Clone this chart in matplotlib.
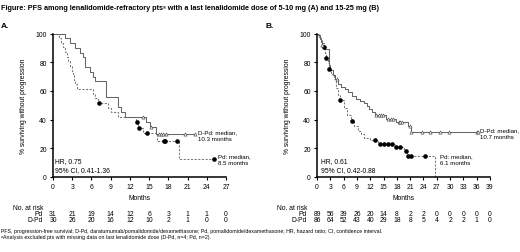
import numpy as np
import matplotlib
matplotlib.use('Agg')
import matplotlib.pyplot as plt
import matplotlib.transforms as mtrans

plt.rcParams['font.family'] = ['Liberation Sans Narrow', 'Liberation Sans', 'DejaVu Sans']

# panel A: last lenalidomide dose 5-10 mg
a_dpd_t = [0, 1.9, 2.6, 3.4, 4.2, 4.7, 5.0, 5.8, 6.3, 6.6, 8.3, 10.1, 10.6, 11.2, 14.5, 15.1, 16.0, 22.2]
a_dpd_s = [100, 96.7, 93.3, 90.0, 86.7, 83.3, 76.7, 73.3, 70.0, 66.7, 55.5, 48.6, 45.0, 41.6, 38.0, 34.6, 30.0, 30.0]
a_dpd_cens = [14.1, 15.3, 16.5, 16.9, 17.2, 17.6, 20.6, 22.2]
a_pd_t = [0, 1.0, 1.3, 1.6, 1.9, 2.2, 2.4, 2.6, 2.9, 3.1, 3.3, 3.5, 3.7, 6.3, 6.6, 7.0, 8.6, 9.1,
          10.2, 13.0, 13.3, 14.0, 16.3, 19.6, 25.2]
a_pd_s = [100, 96.8, 93.5, 90.3, 87.1, 83.9, 80.6, 77.4, 74.2, 71.0, 67.7, 64.5, 61.3, 58.1, 54.8, 51.6,
          48.4, 45.2, 41.9, 38.0, 34.2, 30.4, 25.3, 12.7, 12.7]
a_pd_cens = [7.2, 13.1, 13.4, 14.7, 17.3, 17.5, 19.3, 25.2]
a_risk_t = [0, 3, 6, 9, 12, 15, 18, 21, 24, 27]
a_risk_pd = [31, 21, 19, 14, 12, 6, 3, 1, 1, 0]
a_risk_dpd = [30, 26, 20, 16, 12, 10, 2, 1, 0, 0]

# panel B: last lenalidomide dose 15-25 mg
b_dpd_t = [0, 0.3, 0.6, 0.9, 1.2, 1.5, 2.6, 3.0, 3.5, 4.1, 4.8, 5.5, 6.3, 7.0, 7.8, 8.7, 9.7, 10.5,
           11.2, 11.8, 12.3, 13.0, 15.6, 17.8, 20.5, 21.3, 36.3]
b_dpd_s = [100, 98.8, 96.5, 94.2, 91.9, 89.5, 77.9, 74.4, 70.9, 68.6, 65.1, 62.8, 61.3, 58.9, 56.7,
           54.6, 53.2, 51.6, 49.7, 47.4, 45.0, 43.2, 40.4, 38.0, 35.7, 31.6, 31.6]
b_dpd_cens = [1.2, 4.4, 13.4, 13.9, 14.4, 14.9, 16.0, 16.6, 17.1, 18.5, 18.8, 19.1, 21.0, 21.3,
              23.6, 25.5, 27.7, 29.7, 36.0, 36.3]
b_pd_t = [0, 0.4, 0.8, 1.2, 1.5, 1.8, 2.0, 2.4, 2.8, 3.2, 3.8, 4.2, 4.7, 5.2, 6.0, 6.8, 7.6, 8.4,
          9.2, 9.9, 10.7, 11.9, 13.8, 17.5, 19.7, 20.2, 26.6]
b_pd_s = [100, 97.8, 95.5, 93.3, 90.4, 86.5, 82.7, 79.5, 75.3, 71.9, 68.3, 62.0, 57.3, 53.7, 48.0,
          43.0, 39.2, 35.5, 32.0, 29.8, 27.5, 25.8, 23.0, 20.7, 17.9, 14.4, 0]
b_pd_cens = [1.5, 2.0, 2.8, 5.2, 7.9, 13.1, 14.2, 15.1, 16.1, 17.0, 17.7, 18.7, 20.0, 20.6, 21.1, 24.3]
b_risk_t = [0, 3, 6, 9, 12, 15, 18, 21, 24, 27, 30, 33, 36, 39]
b_risk_pd = [89, 56, 39, 26, 20, 14, 8, 2, 2, 0, 0, 0, 0, 0]
b_risk_dpd = [86, 64, 52, 43, 40, 29, 18, 8, 5, 4, 2, 2, 1, 0]

W, H = 520, 253
fig = plt.figure(figsize=(W / 100, H / 100), dpi=100)
FS = 4.9
LFS = 4.4

def fy(py):
    return 1 - py / H

def step_at(t, s, x):
    i = np.searchsorted(t, x, side='right') - 1
    return np.asarray(s)[i]

def panel(left, xmax, dpd_t, dpd_s, dpd_c, pd_t, pd_s, pd_c, risk_t, risk_pd, risk_dpd,
          letter, hr, hr_x, dpd_lbl, pd_lbl, lbl_pos):
    ax = fig.add_axes([left / W, fy(178), 173 / W, (178 - 34.5) / H])
    ax.step(pd_t, pd_s, where='post', color='#777777', lw=0.75, ls=(0, (2, 1.5)), clip_on=False)
    ax.step(dpd_t, dpd_s, where='post', color='#666666', lw=0.75, clip_on=False)
    ax.plot(pd_c, step_at(pd_t, pd_s, pd_c), 'o', ms=2.3, color='black', clip_on=False)
    ax.plot(dpd_c, step_at(dpd_t, dpd_s, dpd_c), '^', ms=2.3, mfc='white', mec='#555555',
            mew=0.5, clip_on=False)
    ax.set_xlim(0, xmax)
    ax.set_ylim(0, 100)
    ax.set_xticks(risk_t)
    ax.set_yticks([0, 20, 40, 60, 80, 100])
    for sp in ['top', 'right']:
        ax.spines[sp].set_visible(False)
    for sp in ['left', 'bottom']:
        ax.spines[sp].set_linewidth(1.1)
    ax.tick_params(labelsize=FS, length=2.5, width=0.8, pad=2)
    ax.set_xlabel('Months', fontsize=FS, labelpad=3)
    ax.set_ylabel('% surviving without progression', fontsize=FS, labelpad=6)
    ax.text(hr_x, 11.8, hr.split('\n')[0], fontsize=FS, va='center')
    ax.text(hr_x, 5.4, hr.split('\n')[1], fontsize=FS, va='center')
    ax.text(lbl_pos[0], lbl_pos[1], dpd_lbl, fontsize=LFS, va='top', linespacing=1.3, clip_on=False)
    ax.text(lbl_pos[2], lbl_pos[3], pd_lbl, fontsize=LFS, va='top', linespacing=1.3, clip_on=False)
    fig.text((left - 53 + 1) / W, fy(27), letter, fontsize=6, fontweight='bold', va='center')
    tr = mtrans.blended_transform_factory(ax.transData, fig.transFigure)
    fig.text((left - 40) / W, fy(208), 'No. at risk', fontsize=FS, va='center')
    fig.text((left - 10) / W, fy(214.5), 'Pd', fontsize=FS, va='center', ha='right')
    fig.text((left - 10) / W, fy(220.5), 'D-Pd', fontsize=FS, va='center', ha='right')
    for t, n1, n2 in zip(risk_t, risk_pd, risk_dpd):
        ax.text(t, fy(214.5), str(n1), transform=tr, fontsize=FS, ha='center', va='center')
        ax.text(t, fy(220.5), str(n2), transform=tr, fontsize=FS, ha='center', va='center')
    return ax

panel(53, 27, a_dpd_t, a_dpd_s, a_dpd_cens, a_pd_t, a_pd_s, a_pd_cens,
      a_risk_t, a_risk_pd, a_risk_dpd, 'A.', 'HR, 0.75\n95% CI, 0.41-1.36', 0.35,
      'D-Pd: median,\n10.3 months', 'Pd: median,\n8.5 months', (22.7, 33.0, 25.8, 16.2))
panel(317, 39, b_dpd_t, b_dpd_s, b_dpd_cens, b_pd_t, b_pd_s, b_pd_cens,
      b_risk_t, b_risk_pd, b_risk_dpd, 'B.', 'HR, 0.61\n95% CI, 0.42-0.88', 1.0,
      'D-Pd: median,\n10.7 months', 'Pd: median,\n6.1 months', (36.8, 34.6, 27.8, 16.2))

fig.text(1 / W, fy(8), 'Figure: PFS among lenalidomide-refractory pts\u1d43 with a last lenalidomide dose '
         'of 5-10 mg (A) and 15-25 mg (B)', fontsize=5.2, fontweight='bold', va='center')
fig.text(1 / W, fy(232), 'PFS, progression-free survival; D-Pd, daratumumab/pomalidomide/dexamethasone; '
         'Pd, pomalidomide/dexamethasone; HR, hazard ratio; CI, confidence interval.',
         fontsize=3.8, va='center')
fig.text(1 / W, fy(238), '\u1d43Analysis excluded pts with missing data on last lenalidomide dose '
         '(D-Pd, n=4; Pd, n=2).', fontsize=3.8, va='center')

fig.savefig('out.png', dpi=100)
